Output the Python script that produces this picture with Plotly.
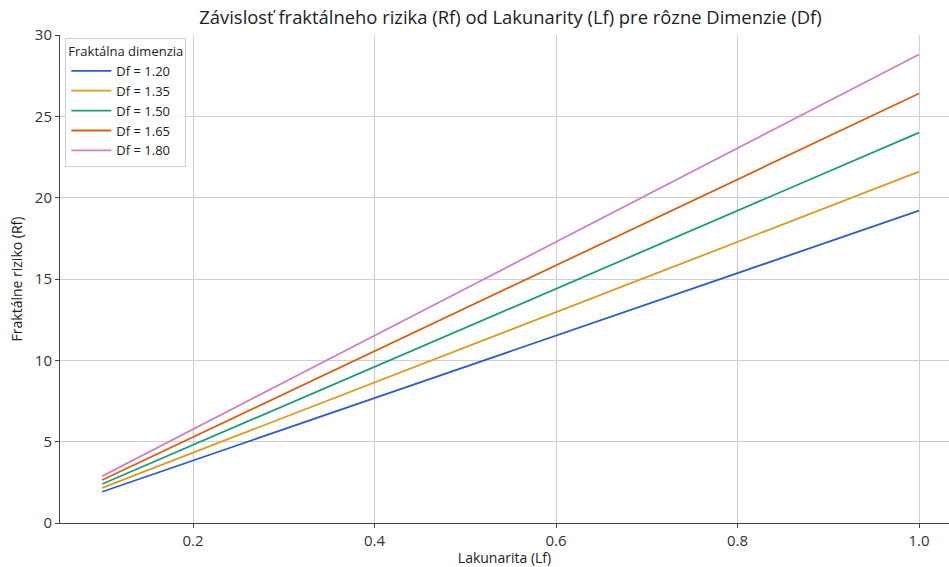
import plotly.graph_objects as go

# Data
lakunarita = [0.1, 0.2, 0.4, 0.6, 0.8, 1.0]
rf_df_120 = [1.92, 3.84, 7.68, 11.52, 15.36, 19.2]
rf_df_135 = [2.16, 4.32, 8.64, 12.96, 17.28, 21.6]
rf_df_150 = [2.40, 4.80, 9.60, 14.40, 19.20, 24.0]
rf_df_165 = [2.64, 5.28, 10.56, 15.84, 21.12, 26.4]
rf_df_180 = [2.88, 5.76, 11.52, 17.28, 23.04, 28.8]
series_names = ["Df = 1.20", "Df = 1.35", "Df = 1.50", "Df = 1.65", "Df = 1.80"]
series_values = [rf_df_120, rf_df_135, rf_df_150, rf_df_165, rf_df_180]
colors = ["#2a5cd6", "#de9a1c", "#1a9e78", "#d9600f", "#cf80c6"]
x_ticks = [0.2, 0.4, 0.6, 0.8, 1.0]
y_ticks = [0, 5, 10, 15, 20, 25, 30]

FONT = "Open Sans"
fig = go.Figure()
for name, vals, col in zip(series_names, series_values, colors):
    fig.add_trace(go.Scatter(x=lakunarita, y=vals, mode="lines", name=name,
                             line=dict(color=col, width=1.8)))

fig.update_layout(
    width=949, height=567,
    margin=dict(l=60, r=0, t=35, b=44),
    plot_bgcolor="white", paper_bgcolor="white",
    font=dict(family=FONT, color="#333333"),
    title=dict(text="Závislosť fraktálneho rizika (Rf) od Lakunarity (Lf) pre rôzne Dimenzie (Df)",
               x=(199 + 822) / 2 / 949, xanchor="center", y=1 - 18 / 567, yanchor="middle",
               font=dict(size=18.4, color="#222222", family=FONT)),
    showlegend=True,
    legend=dict(
        title=dict(text="Fraktálna dimenzia", font=dict(size=13, color="#222222")),
        x=0.006, y=0.994, xanchor="left", yanchor="top",
        bgcolor="rgba(255,255,255,0.85)", bordercolor="#d0d0d0", borderwidth=1,
        font=dict(size=13, color="#222222"),
        itemwidth=40, tracegroupgap=0,
    ),
    hovermode=False,
)
fig.update_xaxes(
    range=[0.05344, 1.03306], tickvals=x_ticks, ticktext=[f"{v:.1f}" for v in x_ticks],
    showgrid=True, gridcolor="#cfcfcf", gridwidth=1,
    showline=True, linecolor="#444444", linewidth=1,
    ticks="outside", ticklen=4, tickcolor="#444444",
    tickfont=dict(size=15, color="#333333"),
    title=dict(text="Lakunarita (Lf)", font=dict(size=14, color="#222222"), standoff=6),
    zeroline=False, automargin=False,
)
fig.update_yaxes(
    range=[0, 30], tickvals=y_ticks,
    showgrid=True, gridcolor="#cfcfcf", gridwidth=1,
    showline=True, linecolor="#444444", linewidth=1,
    ticks="outside", ticklen=4, tickcolor="#444444",
    tickfont=dict(size=15, color="#333333"),
    title=dict(text="Fraktálne riziko (Rf)", font=dict(size=14, color="#222222"), standoff=8),
    zeroline=False, automargin=False,
)
fig.write_html("out.html", config={"displayModeBar": False},
               post_script="document.body.style.margin='0';")
